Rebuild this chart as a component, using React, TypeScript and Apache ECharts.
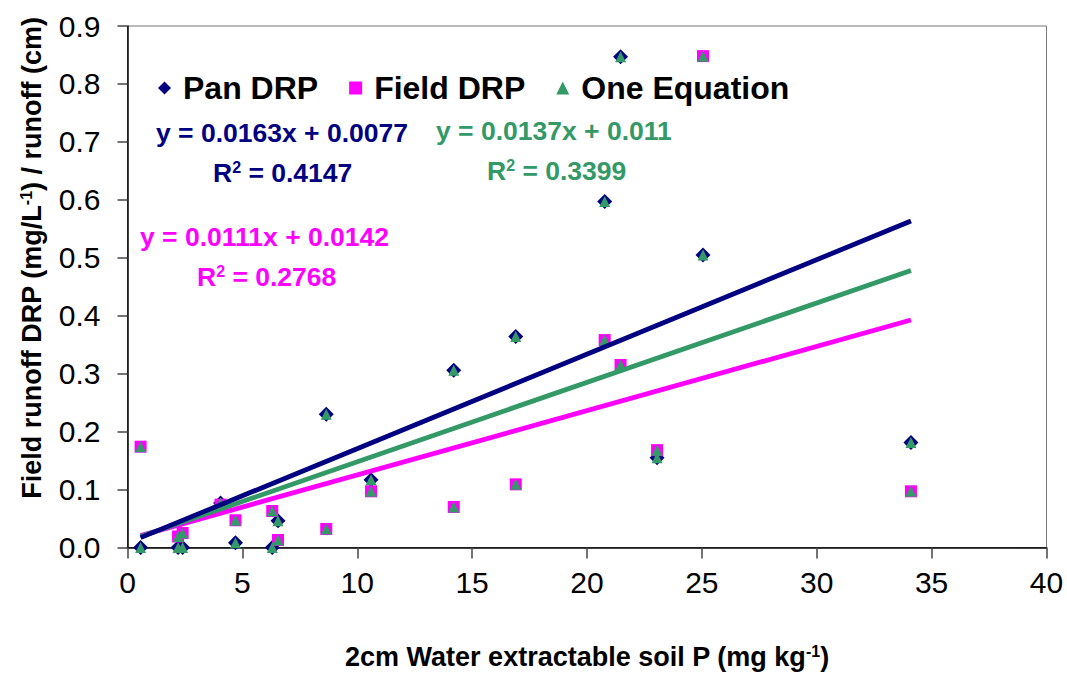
import React, { useEffect, useRef } from "react";
import * as echarts from "echarts";

// ---- data ----
const xValues = [0.57, 2.2, 2.4, 4.05, 4.7, 6.3, 6.55, 8.65, 10.6, 14.2, 16.9, 20.77, 21.46, 23.05, 25.05, 34.1];
const panDRP = [0.0, 0.0, 0.0, 0.077, 0.008, 0.0, 0.046, 0.23, 0.117, 0.306, 0.364, 0.597, 0.847, 0.155, 0.505, 0.181];
const fieldDRP = [0.174, 0.019, 0.025, 0.074, 0.047, 0.063, 0.013, 0.032, 0.097, 0.07, 0.109, 0.358, 0.315, 0.168, 0.848, 0.097];

const seriesNames = ["Pan DRP", "Field DRP", "One Equation"];
const trendSlopes = [0.0163, 0.0111, 0.0137];
const trendIntercepts = [0.0077, 0.0142, 0.011];
const trendEquations = ["y = 0.0163x + 0.0077", "y = 0.0111x + 0.0142", "y = 0.0137x + 0.011"];
const trendR2 = ["0.4147", "0.2768", "0.3399"];

const X_MIN = 0, X_MAX = 40, X_STEP = 5;
const Y_MIN = 0, Y_MAX = 0.9, Y_STEP = 0.1;

const NAVY = "#000080";
const MAGENTA = "#FF00FF";
const GREEN = "#339966";
const FF = "'Liberation Sans', Arial, Helvetica, sans-serif";

const rich = (color: string, size: number) => ({
  n: { fontSize: size, fontWeight: "bold", fill: color, color, fontFamily: FF },
  s: { fontSize: Math.round(size * 0.6), fontWeight: "bold", fill: color, color, fontFamily: FF, verticalAlign: "top" },
});

export default function App() {
  const ref = useRef<HTMLDivElement>(null);

  useEffect(() => {
    if (!ref.current) return;
    const chart = echarts.init(ref.current, undefined, { renderer: "svg" });

    const panData = xValues.map((x, i) => [x, panDRP[i]]);
    const fieldData = xValues.map((x, i) => [x, fieldDRP[i]]);
    const oneData = panData.concat(fieldData);
    const xLo = Math.min(...xValues);
    const xHi = Math.max(...xValues);
    const lineColors = [NAVY, MAGENTA, GREEN];
    const trend = (k: number) => [
      [xLo, trendSlopes[k] * xLo + trendIntercepts[k]],
      [xHi, trendSlopes[k] * xHi + trendIntercepts[k]],
    ];

    const lineSeries = [1, 2, 0].map((k) => ({
      type: "line",
      name: "trend" + k,
      data: trend(k),
      showSymbol: false,
      symbol: "none",
      silent: true,
      z: 5,
      lineStyle: { color: lineColors[k], width: 4.8, opacity: 1 },
    }));

    const eqPos = [
      { x: 156, y: 133, rx: 213, ry: 173 },
      { x: 140, y: 237, rx: 197, ry: 277 },
      { x: 436, y: 131, rx: 487, ry: 171 },
    ];
    const eqGraphics: any[] = [];
    [0, 1, 2].forEach((k) => {
      const c = lineColors[k];
      eqGraphics.push({
        type: "text",
        x: eqPos[k].x,
        y: eqPos[k].y,
        z: 10,
        style: {
          text: "{n|" + trendEquations[k] + "}",
          rich: rich(c, 26.5),
          align: "left",
          verticalAlign: "middle",
        },
      });
      eqGraphics.push({
        type: "text",
        x: eqPos[k].rx,
        y: eqPos[k].ry,
        z: 10,
        style: {
          text: "{n|R}{s|2}{n| = " + trendR2[k] + "}",
          rich: rich(c, 26.5),
          align: "left",
          verticalAlign: "middle",
        },
      });
    });

    const option: any = {
      animation: false,
      backgroundColor: "#ffffff",
      textStyle: { fontFamily: FF },
      grid: {
        left: 127.5,
        right: 20.5,
        top: 26,
        bottom: 125.5,
        show: true,
        borderColor: "#777777",
        borderWidth: 1,
        backgroundColor: "transparent",
      },
      legend: {
        data: seriesNames,
        selectedMode: false,
        left: 153,
        top: 67,
        itemWidth: 13,
        itemHeight: 13,
        itemGap: 31,
        itemStyle: { opacity: 1 },
        formatter: (name: string) => "{g|}{t|" + name + "}",
        textStyle: {
          fontSize: 32,
          fontWeight: "bold",
          color: "#000",
          fontFamily: FF,
          rich: {
            g: { width: 7 },
            t: { fontSize: 32, fontWeight: "bold", color: "#000", fontFamily: FF },
          },
        },
      },
      xAxis: {
        type: "value",
        min: X_MIN,
        max: X_MAX,
        interval: X_STEP,
        axisLine: { show: true, onZero: false, lineStyle: { color: "#000", width: 1.5 } },
        axisTick: { show: true, inside: false, length: 11, lineStyle: { color: "#444", width: 1.5 } },
        axisLabel: { fontSize: 30, color: "#000", fontFamily: FF, margin: 20 },
        splitLine: { show: false },
      },
      yAxis: {
        type: "value",
        min: Y_MIN,
        max: Y_MAX,
        interval: Y_STEP,
        axisLine: { show: true, onZero: false, lineStyle: { color: "#000", width: 1.5 } },
        axisTick: { show: true, inside: false, length: 10, lineStyle: { color: "#444", width: 1.5 } },
        axisLabel: {
          fontSize: 30,
          color: "#000",
          fontFamily: FF,
          margin: 27,
          formatter: (v: number) => v.toFixed(1),
        },
        splitLine: { show: false },
      },
      series: [
        {
          type: "scatter",
          name: seriesNames[0],
          data: panData,
          symbol: "diamond",
          symbolSize: 15,
          itemStyle: { color: NAVY, opacity: 1 },
          z: 2,
        },
        {
          type: "scatter",
          name: seriesNames[1],
          data: fieldData,
          symbol: "rect",
          symbolSize: 12,
          itemStyle: { color: MAGENTA, opacity: 1 },
          z: 3,
        },
        {
          type: "scatter",
          name: seriesNames[2],
          data: oneData,
          symbol: "triangle",
          symbolSize: 11,
          itemStyle: { color: GREEN, opacity: 1 },
          z: 4,
        },
        ...lineSeries,
      ],
      graphic: [
        ...eqGraphics,
        {
          type: "text",
          x: 32,
          y: 258,
          rotation: Math.PI / 2,
          style: {
            text: "{n|Field runoff DRP (mg/L}{s|-1}{n|) / runoff (cm)}",
            rich: rich("#000", 27),
            align: "center",
            verticalAlign: "middle",
          },
        },
        {
          type: "text",
          x: 587,
          y: 657,
          style: {
            text: "{n|2cm Water extractable soil P (mg kg}{s|-1}{n|)}",
            rich: rich("#000", 27),
            align: "center",
            verticalAlign: "middle",
          },
        },
      ],
    };

    chart.setOption(option);
    return () => chart.dispose();
  }, []);

  return (
    <div
      ref={ref}
      style={{ position: "absolute", left: 0, top: 0, width: 1067, height: 673, background: "#fff" }}
    />
  );
}
